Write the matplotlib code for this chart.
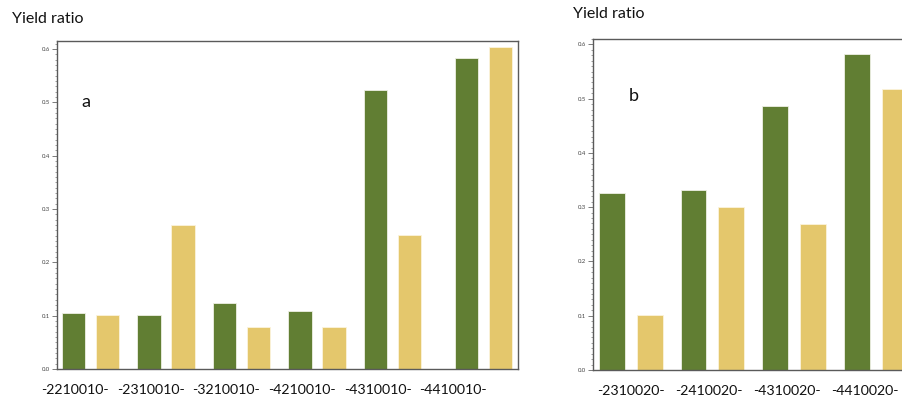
import numpy as np
import matplotlib.pyplot as plt
from matplotlib.ticker import MultipleLocator

# yield ratio per genotype, two seasons
labels_a = ['-2210010-', '-2310010-', '-3210010-', '-4210010-', '-4310010-', '-4410010-']
green_a = [0.105, 0.102, 0.123, 0.109, 0.524, 0.584]
yellow_a = [0.102, 0.270, 0.079, 0.079, 0.252, 0.603]

labels_b = ['-2310020-', '-2410020-', '-4310020-', '-4410020-']
green_b = [0.326, 0.331, 0.486, 0.583]
yellow_b = [0.102, 0.300, 0.269, 0.517]

GREEN = '#617e33'
YELLOW = '#e4c76c'
W, H = 903, 396

fig = plt.figure(figsize=(W / 100, H / 100), dpi=100)
plt.rcParams['font.family'] = ['Lato', 'DejaVu Sans']


def px_axes(x0, y0, x1, y1):
    # axes from pixel box (top-left origin)
    return fig.add_axes([x0 / W, 1 - y1 / H, (x1 - x0) / W, (y1 - y0) / H])


def style(ax, ymax):
    ax.set_ylim(0, ymax)
    ax.yaxis.set_major_locator(MultipleLocator(0.1))
    ax.yaxis.set_minor_locator(MultipleLocator(0.01))
    ax.yaxis.set_major_formatter(lambda v, p: f'{v:.1f}')
    ax.tick_params(axis='y', which='major', length=3.5, width=0.6, labelsize=4.3,
                   color='#666666', labelcolor='#444444', pad=1.5)
    ax.tick_params(axis='y', which='minor', length=1.8, width=0.5, color='#777777')
    ax.set_xticks([])
    for s in ax.spines.values():
        s.set_color('#5a5a5a')
        s.set_linewidth(1.0)


def draw(ax, x, green, yellow, width, off):
    ax.bar(x - off, green, width, color=GREEN, edgecolor='#eef0e4', linewidth=0.6)
    ax.bar(x + off, yellow, width, color=YELLOW, edgecolor='#fbf3dc', linewidth=0.6)


# panel a
ax1 = px_axes(57, 41, 518, 369)
n = len(labels_a)
xa = np.arange(n) + np.where(np.arange(n) == n - 1, 0.2, 0.0)
draw(ax1, xa, green_a, yellow_a, 0.31, 0.225)
ax1.set_xlim(-0.444, 5.66)
style(ax1, 0.615)
for i, lab in enumerate(labels_a):
    ax1.text(i - 0.2, -0.039, lab, transform=ax1.transData, ha='center', va='center',
             fontsize=10.2, color='#111111', clip_on=False)
ax1.text(-0.06, 0.5, 'a', fontsize=13, color='#111111', ha='center', va='center')
fig.text(12 / W, 1 - 19 / H, 'Yield ratio', fontsize=11.5, color='#111111',
         ha='left', va='center')

# panel b (runs off the right edge)
ax2 = px_axes(593, 39, 945, 370)
xb = np.arange(len(labels_b))
draw(ax2, xb, green_b, yellow_b, 0.317, 0.232)
ax2.set_xlim(-0.463, 3.85)
style(ax2, 0.61)
for i, lab in enumerate(labels_b):
    ax2.text(i * 0.955, -0.039, lab, transform=ax2.transData, ha='center', va='center',
             fontsize=10.2, color='#111111', clip_on=False)
ax2.text(0.04, 0.505, 'b', fontsize=13, color='#111111', ha='center', va='center')
fig.text(573 / W, 1 - 14 / H, 'Yield ratio', fontsize=11.5, color='#111111',
         ha='left', va='center')

fig.savefig('out.png', dpi=100)
